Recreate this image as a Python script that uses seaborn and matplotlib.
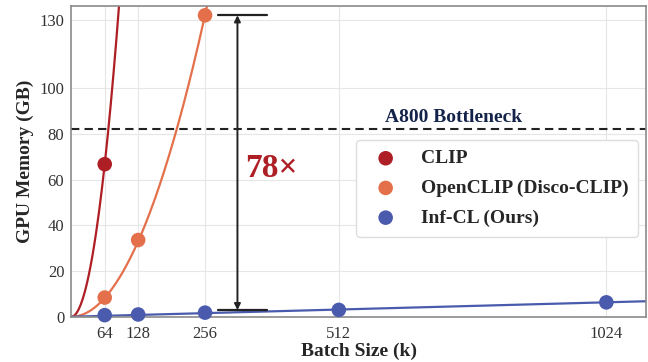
import numpy as np
import pandas as pd
import matplotlib
matplotlib.use("Agg")
import matplotlib.pyplot as plt
import seaborn as sns

# batch sizes (k) and GPU memory (GB)
clip_bs = [64]
clip_mem = [66.8]
open_bs = [64, 128, 256]
open_mem = [8.4, 33.6, 132.0]
inf_bs = [64, 128, 256, 512, 1024]
inf_mem = [0.7, 1.0, 1.8, 3.0, 6.3]
xticks = [64, 128, 256, 512, 1024]
yticks = [0, 20, 40, 60, 80, 100, 130]

c_clip = "#AE1F25"
c_open = "#E4704B"
c_inf = "#4A5BAD"

sns.set_style("whitegrid", {"grid.color": "#e6e6e6", "axes.edgecolor": "#8a8a8a"})
plt.rcParams["font.family"] = ["Liberation Serif", "DejaVu Serif"]

fig = plt.figure(figsize=(6.48, 3.62), dpi=100)
ax = fig.add_axes([0.110, 0.125, 0.887, 0.858])

# fitted curves through the origin (quadratic for CLIP baselines, linear for Inf-CL)
xs = np.linspace(0, 1100, 600)
a_clip = np.sum(np.array(clip_mem) * np.array(clip_bs) ** 2) / np.sum(np.array(clip_bs) ** 4)
a_open = np.sum(np.array(open_mem) * np.array(open_bs) ** 2) / np.sum(np.array(open_bs) ** 4)
a_inf = np.sum(np.array(inf_mem) * np.array(inf_bs)) / np.sum(np.array(inf_bs) ** 2)
sns.lineplot(x=xs, y=a_clip * xs ** 2, color=c_clip, lw=1.6, ax=ax)
sns.lineplot(x=xs, y=a_open * xs ** 2, color=c_open, lw=1.6, ax=ax)
sns.lineplot(x=xs, y=a_inf * xs, color=c_inf, lw=1.6, ax=ax)

sns.scatterplot(x=clip_bs, y=clip_mem, color=c_clip, s=110, edgecolor="none",
                label="CLIP", ax=ax, zorder=5, clip_on=False)
sns.scatterplot(x=open_bs, y=open_mem, color=c_open, s=110, edgecolor="none",
                label="OpenCLIP (Disco-CLIP)", ax=ax, zorder=5, clip_on=False)
sns.scatterplot(x=inf_bs, y=inf_mem, color=c_inf, s=110, edgecolor="none",
                label="Inf-CL (Ours)", ax=ax, zorder=5, clip_on=False)

# A800 limit
ax.axhline(82, color="#222222", ls="--", lw=1.5, dashes=(4, 2.5))
ax.text(732, 83.5, "A800 Bottleneck", color="#13234a", fontsize=14,
        fontweight="bold", ha="center", va="bottom")

# 78x arrow
ax.annotate("", xy=(318, 2.9), xytext=(318, 132),
            arrowprops=dict(arrowstyle="<|-|>", color="#222222", lw=1.4,
                            mutation_scale=9, shrinkA=0, shrinkB=0))
ax.plot([280, 374], [132, 132], color="#222222", lw=1.6)
ax.plot([280, 374], [2.9, 2.9], color="#222222", lw=1.6)
ax.text(333, 65, "78×", color=c_clip, fontsize=24, fontweight="bold",
        ha="left", va="center")

ax.set_xlim(0, 1100)
ax.set_ylim(0, 136)
ax.set_xticks(xticks)
ax.set_yticks(yticks)
ax.tick_params(axis="both", labelsize=12, colors="#333333", length=0)
ax.tick_params(axis="x", pad=7)
ax.tick_params(axis="y", pad=5)
ax.set_xlabel("Batch Size (k)", fontsize=14, fontweight="bold", labelpad=0)
ax.set_ylabel("GPU Memory (GB)", fontsize=14, fontweight="bold", labelpad=4)
for s in ax.spines.values():
    s.set_linewidth(1.2)

leg = ax.legend(loc="upper right", bbox_to_anchor=(0.986, 0.569),
                prop={"weight": "bold", "size": 14}, frameon=True,
                handletextpad=0.8, labelspacing=0.62, borderpad=0.5,
                borderaxespad=0, markerscale=1.0, fancybox=True)
leg.get_frame().set_edgecolor("#dddddd")
leg.get_frame().set_facecolor("white")
leg.get_frame().set_alpha(1)

fig.savefig("out.png", dpi=100)
